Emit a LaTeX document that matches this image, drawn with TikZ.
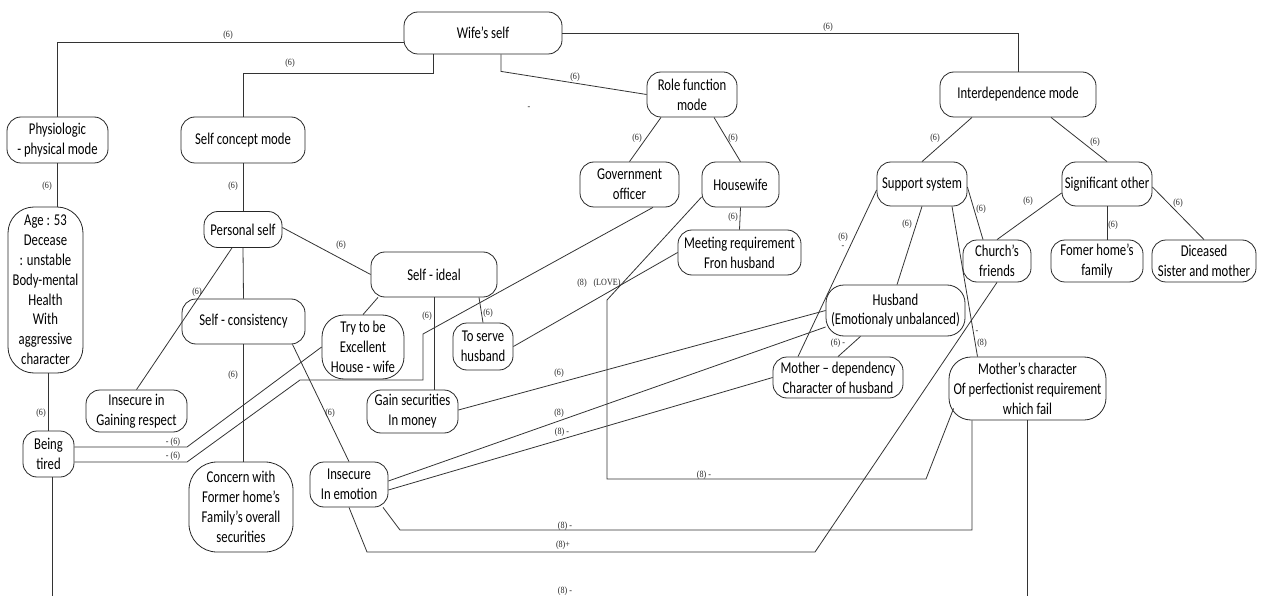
\documentclass[tikz,border=0pt]{standalone}
\usepackage{fontspec}
\setmainfont[FakeStretch=0.77]{Carlito}
\newfontfamily\lblfont[FakeStretch=0.85]{Liberation Serif}
\tikzset{
  box/.style={draw=black!85, line width=0.8pt, rounded corners=14pt, align=center, inner sep=0pt,
              font=\fontsize{16.5}{19.8}\selectfont},
  lbl/.style={font=\lblfont\fontsize{9.5}{10}\selectfont, inner sep=0pt, text=black!85},
  conn/.style={draw=black!80, line width=0.8pt},
}
\newcommand\mylab[3]{\node[lbl] (#1) at (#2) {#3};}
\begin{document}
\begin{tikzpicture}[x=1pt,y=-1pt]
\useasboundingbox (0,0) rectangle (1269,596);
% nodes
\node[box, minimum width=158pt, minimum height=42pt] (wife) at (483,33) {Wife’s self};
\node[box, minimum width=101pt, minimum height=46pt] (phys) at (57.5,140) {Physiologic\\- physical mode};
\node[box, minimum width=124pt, minimum height=46pt] (scm) at (243,140) {Self concept mode};
\node[box, minimum width=90pt, minimum height=45pt] (role) at (692,94.5) {Role function\\mode};
\node[box, minimum width=156pt, minimum height=45pt] (inter) at (1018,94.5) {Interdependence mode};
\node[box, minimum width=99pt, minimum height=45pt] (gov) at (629.5,184.5) {Government\\officer};
\node[box, minimum width=77pt, minimum height=45pt] (hw) at (740.5,184.5) {Housewife};
\node[box, minimum width=90pt, minimum height=44pt] (sup) at (922,184) {Support system};
\node[box, minimum width=90pt, minimum height=44pt] (sig) at (1107,184) {Significant other};
\node[box, minimum width=68pt, minimum height=42pt] (church) at (997,261) {Church’s\\friends};
\node[box, minimum width=92pt, minimum height=42pt] (fomer) at (1097,261) {Fomer home’s\\family};
\node[box, minimum width=104pt, minimum height=42pt] (dic) at (1204,261) {Diceased\\Sister and mother};
\node[box, minimum width=75pt, minimum height=166pt, rounded corners=26pt] (age) at (45.5,290)
  {Age : 53\\Decease\\: unstable\\Body-mental\\Health\\With\\aggressive\\character};
\node[box, minimum width=78pt, minimum height=36pt] (pers) at (243,229.5) {Personal self};
\node[box, minimum width=126pt, minimum height=45pt] (sideal) at (434,274.5) {Self - ideal};
\node[box, minimum width=123pt, minimum height=45pt] (meet) at (739.5,252.5) {Meeting requirement\\Fron husband};
\node[box, minimum width=123pt, minimum height=45pt] (cons) at (243.5,321.5) {Self - consistency};
\node[box, minimum width=82pt, minimum height=64pt, rounded corners=22pt] (try) at (363,347) {Try to be\\Excellent\\House - wife};
\node[box, minimum width=60pt, minimum height=47pt] (serve) at (483,346.5) {To serve\\husband};
\node[box, minimum width=139pt, minimum height=51pt, rounded corners=18pt] (husb) at (895.5,310.5) {Husband\\(Emotionaly unbalanced)};
\node[box, minimum width=130pt, minimum height=41pt] (mdep) at (838,377.5) {Mother – dependency\\Character of husband};
\node[box, minimum width=157pt, minimum height=63pt, rounded corners=22pt] (mchar) at (1027.5,388.5)
  {Mother’s character\\Of perfectionist requirement\\which fail};
\node[box, minimum width=91pt, minimum height=43pt] (gain) at (412.5,411.5) {Gain securities\\In money};
\node[box, minimum width=101pt, minimum height=42pt] (igain) at (136.5,411) {Insecure in\\Gaining respect};
\node[box, minimum width=51pt, minimum height=46pt] (tired) at (48.5,454) {Being\\tired};
\node[box, minimum width=104pt, minimum height=90pt, rounded corners=28pt] (concern) at (241,507)
  {Concern with\\Former home’s\\Family’s overall\\securities};
\node[box, minimum width=78pt, minimum height=45pt] (iemo) at (349,484.5) {Insecure\\In emotion};
% bend points
\coordinate (b1) at (187,447);
\coordinate (b2) at (423,334);
\coordinate (b3) at (423,380);
\coordinate (b4) at (300,380);
\coordinate (b5) at (187,462);
\coordinate (b6) at (400,530);
\coordinate (b7) at (972,530);
\coordinate (b8) at (367,552);
\coordinate (b9) at (815,552);
\coordinate (b10) at (607,300);
\coordinate (b11) at (607,479);
\coordinate (b12) at (926,479);
\coordinate (e1) at (52,596);
\coordinate (e2) at (1027.5,596);
% connectors
\draw[conn] ([yshift=-9pt]wife.west) -| (phys.north);
\draw[conn] ([xshift=-50pt]wife.south) -- ++(0,19) -| (scm.north);
\draw[conn] ([xshift=18pt]wife.south) -- ++(0,17) -- (role.west);
\draw[conn] (wife.east) -| (inter.north);
\draw[conn] (phys.south) -- (phys.south |- age.north);
\draw[conn] (scm.south) -- (pers.north);
\draw[conn] ([xshift=-31pt]role.south) -- (gov.north);
\draw[conn] ([xshift=22pt]role.south) -- (hw.north);
\draw[conn] ([xshift=-46pt]inter.south) -- (sup.north);
\draw[conn] ([xshift=33pt]inter.south) -- (sig.north);
\draw[conn] ([yshift=-3pt]sup.east) -- ([xshift=-14pt]church.north);
\draw[conn] ([yshift=-9pt]sig.west) -- (church.north);
\draw[conn] (sig.south) -- (sig.south |- fomer.north);
\draw[conn] ([yshift=-3pt]sig.east) -- (dic.north);
\draw[conn] (sup.south) -- ([xshift=1.5pt]husb.north);
\draw[conn] ([xshift=30pt]sup.south) -- ([xshift=-50pt]mchar.north);
\draw[conn] ([yshift=-6pt]sup.west) -- ([xshift=-40pt]mdep.north);
\draw[conn] ([xshift=-35pt]husb.south) -- (mdep.north);
\draw[conn] (hw.south) -- (meet.north);
\draw[conn] (meet.west) -- (serve.east);
\draw[conn] ([yshift=2pt]pers.east) -- (sideal.west);
\draw[conn] (pers.south) -- (cons.north);
\draw[conn] ([xshift=-11pt]pers.south) -- (igain.north);
\draw[conn] ([xshift=45pt]sideal.south) -- (serve.north);
\draw[conn] (sideal.south) -- (sideal.south |- gain.north);
\draw[conn] ([xshift=-56pt]sideal.south) -- (try.north);
\draw[conn] (cons.south) -- (cons.south |- concern.north);
\draw[conn] ([xshift=49pt]cons.south) -- (iemo.north);
\draw[conn] (tired.north |- age.south) -- (tired.north);
\draw[conn] (try.west) -- (b1) -- ([yshift=7pt]tired.east);
\draw[conn] ([xshift=23.5pt]gov.south) -- (b2) -- (b3) -- (b4) -- (b5) -- ([yshift=-8pt]tired.east);
\draw[conn] ([yshift=1.5pt]gain.east) -- (husb.west);
\draw[conn] ([yshift=3.5pt]iemo.east) -- ([yshift=-16.5pt]husb.west);
\draw[conn] ([yshift=-5.5pt]iemo.east) -- (mdep.west);
\draw[conn] ([xshift=34pt]iemo.south) -- (b6) -- (b7) -- ([xshift=-55.5pt]mchar.south);
\draw[conn] (iemo.south) -- (b8) -- (b9) -- (church.south);
\draw[conn] ([yshift=-12.5pt]hw.west) -- (b10) -- (b11) -- (b12) -- ([xshift=5pt,yshift=12pt]mchar.south west);
\draw[conn] ([xshift=3.5pt]tired.south) -- (e1);
\draw[conn] (mchar.south) -- (e2);
% labels
\mylab{l1}{228,35}{(6)}
\mylab{l2}{290,63}{(6)}
\mylab{l3}{575,77}{(6)}
\mylab{l4}{828,27}{(6)}
\mylab{l5}{47,186}{(6)}
\mylab{l6}{233,186}{(6)}
\mylab{l7}{637,138}{(6)}
\mylab{l8}{733,138}{(6)}
\mylab{l9}{935,138}{(6)}
\mylab{l10}{1095,142}{(6)}
\mylab{l11}{981,209}{(6)}
\mylab{l12}{1028,201}{(6)}
\mylab{l13}{1113,225}{(6)}
\mylab{l14}{1178,203}{(6)}
\mylab{l15}{907,224}{(6)}
\mylab{l16}{843,237}{(6)}
\mylab{l17}{843,247}{-}
\mylab{l18}{733,217}{(6)}
\mylab{l19}{341,245}{(6)}
\mylab{l20}{197,292}{(6)}
\mylab{l21}{233,375}{(6)}
\mylab{l22}{488,313}{(6)}
\mylab{l23}{427,316}{(6)}
\mylab{l24}{330,413}{(6)}
\mylab{l25}{41,413}{(6)}
\mylab{l26}{559,373}{(6)}
\mylab{l27}{173,442}{- (6)}
\mylab{l28}{173,456}{- (6)}
\mylab{l29}{838,343}{(6) -}
\mylab{l30}{977,332}{-}
\mylab{l31}{982,343}{(8)}
\mylab{l32}{582,283}{(8)}
\mylab{l33}{607,283}{(LOVE)}
\mylab{l34}{559,413}{(8)}
\mylab{l35}{562,432}{(8) -}
\mylab{l36}{704,475}{(8) -}
\mylab{l37}{565,526}{(8) -}
\mylab{l38}{563,545}{(8)+}
\mylab{l39}{565,591}{(8) -}
\mylab{l40}{529,108}{-}
\end{tikzpicture}
\end{document}
